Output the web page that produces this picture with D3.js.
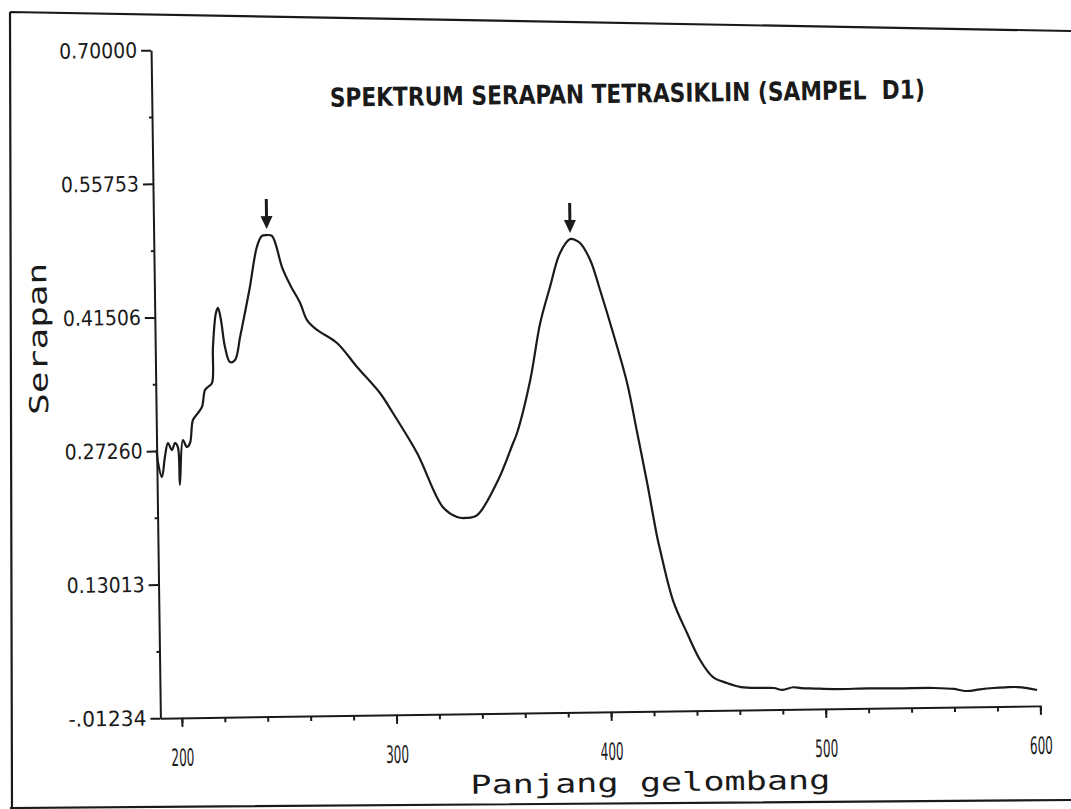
<!DOCTYPE html>
<html>
<head>
<meta charset="utf-8">
<script src="https://cdn.jsdelivr.net/npm/d3@7"></script>
<style>
  body { margin: 0; background: #fff; }
  svg { display: block; }
</style>
</head>
<body>
<div id="chart"></div>
<script>
// Spectrum data
const wavelengths = [190, 190.5, 192.3, 193.8, 195.3, 197.1, 198.6, 199.9, 200.6, 202.3,
  204.1, 205.6, 207.1, 209.5, 211.4, 212.9, 214.3, 216.2, 216.9, 218.5,
  219.5, 220.8, 222.5, 224.7, 227.1, 229.6, 232.0, 234.5, 238.0, 240.4,
  242.7, 245.1, 249.7, 253.2, 257.8, 260.9, 265.5, 274.7, 283.9, 294.4,
  300.3, 311.3, 323.0, 329.5, 333.7, 338.9, 348.9, 356.1, 358.0, 364.5,
  369.5, 374.3, 379.2, 384.0, 386.3, 388.6, 393.2, 397.6, 403.4, 409.6,
  414.0, 418.3, 422.6, 423.9, 429.5, 435.9, 441.8, 447.7, 454.2, 460.7,
  470, 476, 480, 485, 488.6, 495, 504, 520, 535, 550.7,
  560, 563, 566, 572, 578.2, 584, 589.3, 594, 598.6];
const absorbance = [0.2736, 0.2609, 0.2448, 0.2661, 0.2809, 0.2734, 0.2808, 0.2765, 0.2360, 0.2839,
  0.2764, 0.2806, 0.3051, 0.3125, 0.3189, 0.3369, 0.3401, 0.3442, 0.3826, 0.4189,
  0.4242, 0.4113, 0.3824, 0.3664, 0.3685, 0.3929, 0.4185, 0.4461, 0.4886, 0.5003,
  0.5012, 0.5002, 0.4660, 0.4480, 0.4283, 0.4100, 0.3993, 0.3851, 0.3592, 0.3311,
  0.3096, 0.2666, 0.2084, 0.1977, 0.1966, 0.1995, 0.2365, 0.2758, 0.2864, 0.3428,
  0.4033, 0.4416, 0.4778, 0.4925, 0.4914, 0.4881, 0.4698, 0.4377, 0.3916, 0.3381,
  0.2846, 0.2311, 0.1734, 0.1595, 0.1060, 0.0706, 0.0416, 0.0233, 0.0167, 0.0122,
  0.0110, 0.0107, 0.0085, 0.0112, 0.0102, 0.0095, 0.0087, 0.0088, 0.0085, 0.0083,
  0.0070, 0.0055, 0.0046, 0.0062, 0.0074, 0.0080, 0.0081, 0.0068, 0.0046];

// Axis ticks as printed by the instrument
const yTicks = [-0.01234, 0.13013, 0.27260, 0.41506, 0.55753, 0.70000];
const yTickLabels = ["-.01234", "0.13013", "0.27260", "0.41506", "0.55753", "0.70000"];
const xTicks = [200, 300, 400, 500, 600];
const xTickLabels = ["200", "300", "400", "500", "600"];
const peakWavelengths = [242.7, 384.0];

const titleText = "SPEKTRUM SERAPAN TETRASIKLIN (SAMPEL  D1)";
const xLabel = "Panjang gelombang";
const yLabel = "Serapan";

const W = 1071, H = 809;
const plot = {left: 156, right: 1036, top: 44, bottom: 712};
const ink = "#1a1a1a";
const narrow = "'Liberation Sans Narrow', 'DejaVu Sans Condensed', sans-serif";
const mono = "'DejaVu Sans Mono', 'Liberation Mono', monospace";

const svg = d3.select("#chart").append("svg")
    .attr("width", W)
    .attr("height", H);

svg.append("rect").attr("width", W).attr("height", H).attr("fill", "#fff");

// paper frame of the scan
svg.append("path")
    .attr("d", "M10,12 L1071,31 M10,12 L12,809 M10,808 L1071,800")
    .attr("fill", "none")
    .attr("stroke", ink)
    .attr("stroke-width", 2.2);

// the scanned sheet sits slightly skewed
const g = svg.append("g")
    .attr("transform", "rotate(-0.8, 600, 400)");

const x = d3.scaleLinear().domain([190, 600]).range([plot.left, plot.right]);
const y = d3.scaleLinear().domain([-0.01234, 0.70]).range([plot.bottom, plot.top]);

// minor ticks
g.append("g")
    .attr("transform", `translate(0,${plot.bottom})`)
    .call(d3.axisBottom(x).tickValues(d3.range(200, 601, 20)).tickSize(5).tickFormat(""))
    .call(a => a.select(".domain").remove());
g.append("g")
    .attr("transform", `translate(${plot.left},0)`)
    .call(d3.axisLeft(y).tickValues(d3.range(5).map(i => (yTicks[i] + yTicks[i + 1]) / 2)).tickSize(3).tickFormat(""))
    .call(a => a.select(".domain").remove());

// x axis
const xAxis = g.append("g")
    .attr("transform", `translate(0,${plot.bottom})`)
    .call(d3.axisBottom(x).tickValues(xTicks).tickSize(9).tickSizeOuter(0).tickPadding(22)
        .tickFormat((d, i) => xTickLabels[i]));

// y axis
const yAxis = g.append("g")
    .attr("transform", `translate(${plot.left},0)`)
    .call(d3.axisLeft(y).tickValues(yTicks).tickSize(10).tickSizeOuter(0).tickPadding(4)
        .tickFormat((d, i) => yTickLabels[i]));

g.selectAll(".tick line, .domain").attr("stroke", ink).attr("stroke-width", 2);

xAxis.selectAll("text")
    .attr("fill", ink)
    .style("font-family", narrow)
    .style("font-size", "24px")
    .attr("textLength", 23)
    .attr("lengthAdjust", "spacingAndGlyphs");

yAxis.selectAll("text")
    .attr("fill", ink)
    .style("font-family", narrow)
    .style("font-size", "21px")
    .attr("textLength", 78)
    .attr("lengthAdjust", "spacingAndGlyphs");

// spectrum
const spectrum = wavelengths.map((w, i) => ({w: w, a: absorbance[i]}));
const line = d3.line()
    .x(d => x(d.w))
    .y(d => y(d.a))
    .curve(d3.curveCatmullRom.alpha(0.5));

g.append("path")
    .datum(spectrum)
    .attr("fill", "none")
    .attr("stroke", ink)
    .attr("stroke-width", 2.2)
    .attr("stroke-linejoin", "round")
    .attr("d", line);

// peak markers
peakWavelengths.forEach(p => {
    const i = wavelengths.indexOf(p);
    const px = x(p), py = y(absorbance[i]) - 6;
    g.append("line")
        .attr("x1", px).attr("x2", px)
        .attr("y1", py - 30).attr("y2", py - 12)
        .attr("stroke", ink).attr("stroke-width", 3);
    g.append("path")
        .attr("d", `M${px - 6},${py - 13} L${px + 6},${py - 13} L${px},${py} Z`)
        .attr("fill", ink);
});

// title
g.append("text")
    .attr("x", 334)
    .attr("y", 103)
    .attr("fill", ink)
    .style("font-family", narrow)
    .style("font-weight", "bold")
    .style("font-size", "26px")
    .style("white-space", "pre")
    .attr("textLength", 595)
    .attr("lengthAdjust", "spacingAndGlyphs")
    .text(titleText);

// axis labels
g.append("text")
    .attr("x", 645)
    .attr("y", 792)
    .attr("text-anchor", "middle")
    .attr("fill", ink)
    .style("font-family", mono)
    .style("font-size", "26px")
    .attr("textLength", 360)
    .attr("lengthAdjust", "spacingAndGlyphs")
    .text(xLabel);

g.append("text")
    .attr("transform", "translate(48,331) rotate(-90)")
    .attr("text-anchor", "middle")
    .attr("fill", ink)
    .style("font-family", mono)
    .style("font-size", "26px")
    .attr("textLength", 152)
    .attr("lengthAdjust", "spacingAndGlyphs")
    .text(yLabel);
</script>
</body>
</html>
